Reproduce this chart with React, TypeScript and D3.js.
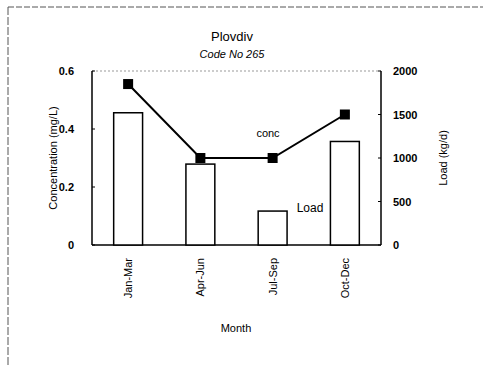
import React from 'react';
import * as d3 from 'd3';

const months = ['Jan-Mar', 'Apr-Jun', 'Jul-Sep', 'Oct-Dec'];
const loadValues = [1520, 930, 390, 1190];
const concValues = [0.555, 0.3, 0.3, 0.45];
const leftTicks = [0, 0.2, 0.4, 0.6];
const rightTicks = [0, 500, 1000, 1500, 2000];

const W = 483;
const H = 366;
const margin = { top: 71, right: 102, bottom: 121, left: 92 };
const font = 'Arial, "Liberation Sans", sans-serif';

export default function App() {
  const x = d3.scaleBand().domain(months).range([margin.left, W - margin.right]).paddingInner(0.6).paddingOuter(0.3);
  const yL = d3.scaleLinear().domain([0, 0.6]).range([H - margin.bottom, margin.top]);
  const yR = d3.scaleLinear().domain([0, 2000]).range([H - margin.bottom, margin.top]);
  const cx = (m: string) => (x(m) as number) + x.bandwidth() / 2;
  const line = d3.line<number>().x((_, i) => cx(months[i])).y(d => yL(d));
  const x0 = margin.left, x1 = W - margin.right;
  const yb = H - margin.bottom, yt = margin.top;

  return (
    <svg width={W} height={H} style={{ position: 'absolute', left: 0, top: 0, background: '#fff' }}>
      {/* page frame */}
      <line x1={8} y1={7} x2={W} y2={7} stroke="#555" strokeDasharray="6,2" strokeWidth={1} />
      <line x1={8} y1={7} x2={8} y2={H} stroke="#555" strokeDasharray="8,2" strokeWidth={1} />

      <text x={232} y={41} textAnchor="middle" fontFamily={font} fontSize={13}>Plovdiv</text>
      <text x={232} y={58} textAnchor="middle" fontFamily={font} fontSize={11} fontStyle="italic">Code No 265</text>

      {/* plot frame */}
      <line x1={x0} y1={yt} x2={x1} y2={yt} stroke="#999" strokeDasharray="2,2" strokeWidth={1} />
      <line x1={x0} y1={yt} x2={x0} y2={yb} stroke="#000" strokeWidth={1.5} />
      <line x1={x1} y1={yt} x2={x1} y2={yb} stroke="#000" strokeWidth={1.5} />
      <line x1={x0} y1={yb} x2={x1} y2={yb} stroke="#000" strokeWidth={1.5} />

      {/* bars: load on right axis */}
      {months.map((m, i) => (
        <rect key={m} x={x(m)} y={yR(loadValues[i])} width={x.bandwidth()} height={yb - yR(loadValues[i])}
          fill="#fff" stroke="#000" strokeWidth={1.5} />
      ))}

      {/* concentration line */}
      <path d={line(concValues) || ''} fill="none" stroke="#000" strokeWidth={2} />
      {concValues.map((v, i) => (
        <rect key={i} x={cx(months[i]) - 5} y={yL(v) - 5} width={10} height={10} fill="#000" />
      ))}

      {/* left axis */}
      {leftTicks.map(t => (
        <g key={t}>
          <line x1={x0} x2={x0 + 3} y1={yL(t)} y2={yL(t)} stroke="#000" />
          <text x={x0 - 18} y={yL(t) + 4} textAnchor="end" fontFamily={font} fontSize={11} fontWeight="bold">{t === 0 ? '0' : t.toFixed(1)}</text>
        </g>
      ))}
      {/* right axis */}
      {rightTicks.map(t => (
        <g key={t}>
          <line x1={x1} x2={x1 - 3} y1={yR(t)} y2={yR(t)} stroke="#000" />
          <text x={x1 + 12} y={yR(t) + 4} textAnchor="start" fontFamily={font} fontSize={11} fontWeight="bold">{t}</text>
        </g>
      ))}

      {/* x tick labels */}
      {months.map(m => (
        <text key={m} transform={`translate(${cx(m) + 4},${yb + 13}) rotate(-90)`} textAnchor="end"
          fontFamily={font} fontSize={11}>{m}</text>
      ))}

      <text x={236} y={332} textAnchor="middle" fontFamily={font} fontSize={11}>Month</text>
      <text transform={`translate(57,${(yt + yb) / 2}) rotate(-90)`} textAnchor="middle" fontFamily={font} fontSize={11}>Concentration (mg/L)</text>
      <text transform={`translate(447,${(yt + yb) / 2}) rotate(-90)`} textAnchor="middle" fontFamily={font} fontSize={11}>Load (kg/d)</text>

      <text x={268} y={137} textAnchor="middle" fontFamily={font} fontSize={11}>conc</text>
      <text x={310} y={212} textAnchor="middle" fontFamily={font} fontSize={12}>Load</text>
    </svg>
  );
}
